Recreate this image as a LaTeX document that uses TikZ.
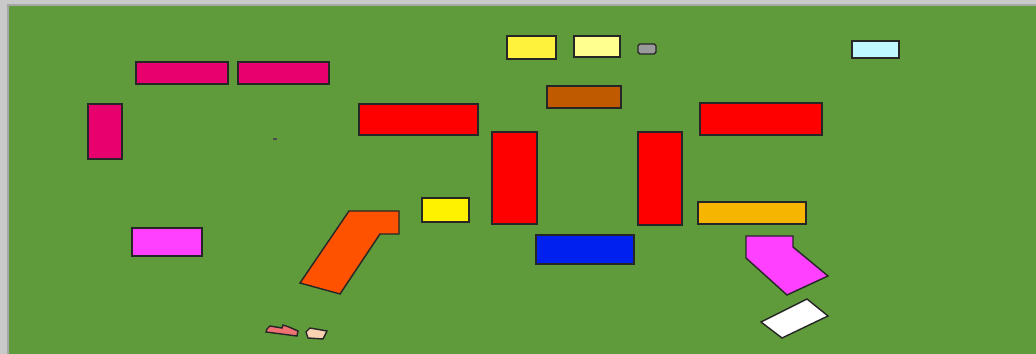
\documentclass[tikz,border=0pt]{standalone}
\usepackage{xcolor}
\usepackage{tikz}
\definecolor{grassx}{HTML}{5F9B3B}
\definecolor{framex}{HTML}{C9C9C9}
\definecolor{pinkx}{HTML}{E8006E}
\definecolor{redx}{HTML}{FF0000}
\definecolor{yellowx}{HTML}{FFF23C}
\definecolor{paleyx}{HTML}{FFFF90}
\definecolor{greyx}{HTML}{9A9A9A}
\definecolor{brownx}{HTML}{BF5A00}
\definecolor{amberx}{HTML}{F5B500}
\definecolor{bluex}{HTML}{0020F0}
\definecolor{cyanx}{HTML}{BFF8FF}
\definecolor{violetx}{HTML}{FF40FF}
\definecolor{orangex}{HTML}{FF5200}
\definecolor{salmonx}{HTML}{F07272}
\definecolor{peachx}{HTML}{F9D2B4}
\tikzset{
  lot/.style={draw=black!85,line width=0.8pt},
  speck/.style={draw=black!70,line width=0.9pt}
}

\begin{document}
\begin{tikzpicture}[x=0.02cm,y=-0.02cm]
\useasboundingbox (0,0) rectangle (1036,354);
% frame and ground
\fill[framex] (0,0) rectangle (1036,354);
\fill[grassx] (8,5) rectangle (1036,354);
\draw[gray!70,line width=0.6pt] (8,354)--(8,5)--(1036,5);
% top row
\filldraw[lot,fill=pinkx] (136,62) rectangle (228,84);
\filldraw[lot,fill=pinkx] (238,62) rectangle (329,84);
\filldraw[lot,fill=pinkx] (88,104) rectangle (122,159);
\filldraw[lot,fill=yellowx] (507,36) rectangle (556,59);
\filldraw[lot,fill=paleyx] (574,36) rectangle (620,57);
\filldraw[lot,fill=greyx,rounded corners=1pt] (638,44) rectangle (656,54);
\filldraw[lot,fill=cyanx] (852,41) rectangle (899,58);
\filldraw[lot,fill=brownx] (547,86) rectangle (621,108);
% middle
\filldraw[lot,fill=redx] (359,104) rectangle (478,135);
\filldraw[lot,fill=redx] (492,132) rectangle (537,224);
\filldraw[lot,fill=redx] (638,132) rectangle (682,225);
\filldraw[lot,fill=redx] (700,103) rectangle (822,135);
\filldraw[lot,fill=yellow] (422,198) rectangle (469,222);
\filldraw[lot,fill=amberx] (698,202) rectangle (806,224);
\filldraw[lot,fill=bluex] (536,235) rectangle (634,264);
\filldraw[lot,fill=violetx] (132,228) rectangle (202,256);
% odd shapes
\filldraw[lot,fill=orangex] (349,211)--(399,211)--(399,234)--(380,234)--(340,294)--(300,283)--cycle;
\filldraw[lot,fill=violetx] (746,236)--(793,236)--(793,247)--(828,276)--(787,295)--(746,258)--cycle;
\filldraw[lot,fill=white] (761,322)--(807,299)--(828,316)--(782,338)--cycle;
\filldraw[lot,fill=salmonx] (267,329)--(270,326)--(282,328)--(283,325)--(289,327)--(298,331)--(297,336)--(266,332)--cycle;
\filldraw[lot,fill=peachx] (306,332)--(310,328)--(327,331)--(323,339)--(308,338)--cycle;
\draw[speck] (273,139)--(277,139);
\end{tikzpicture}
\end{document}
